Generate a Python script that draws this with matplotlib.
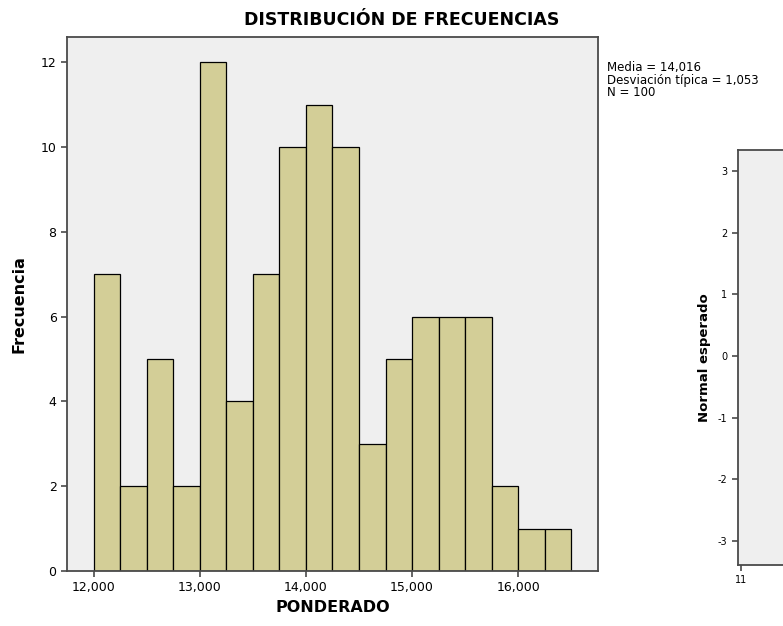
import matplotlib
matplotlib.use("Agg")
import matplotlib.pyplot as plt
from matplotlib.ticker import FuncFormatter

# datos del histograma (PONDERADO, ancho de clase 250)
bordes = [12000 + 250 * i for i in range(19)]
frecuencias = [7, 2, 5, 2, 12, 4, 7, 10, 11, 10, 3, 5, 6, 6, 6, 2, 1, 1]
ticks_x = [12000, 13000, 14000, 15000, 16000]
ticks_y = [0, 2, 4, 6, 8, 10, 12]
ticks_qq = [-3, -2, -1, 0, 1, 2, 3]

FONDO = "#EFEFEF"
BARRA = "#D3CE97"
BORDE = "#4A4A4A"

plt.rcParams["axes.unicode_minus"] = False

fig = plt.figure(figsize=(7.83, 6.26), dpi=100)

# panel principal: histograma
ax = fig.add_axes([0.0856, 0.0879, 0.678, 0.853])
ax.set_facecolor(FONDO)
ax.bar(bordes[:-1], frecuencias, width=250, align="edge",
       color=BARRA, edgecolor="black", linewidth=0.9)
ax.set_xlim(11750, 16750)
ax.set_ylim(0, 12.6)
ax.set_xticks(ticks_x)
ax.set_yticks(ticks_y)
ax.xaxis.set_major_formatter(FuncFormatter(lambda v, p: "{:,.0f}".format(v)))
ax.tick_params(direction="out", length=4, width=1.2, color=BORDE, labelsize=9)
for s in ax.spines.values():
    s.set_color(BORDE)
    s.set_linewidth(1.3)
ax.set_xlabel("PONDERADO", fontsize=11.5, fontweight="bold", labelpad=4)
ax.set_ylabel("Frecuencia", fontsize=11.5, fontweight="bold", labelpad=10)

# titulo centrado sobre toda la zona (grafico + estadisticos)
fig.text(0.513, 0.968, "DISTRIBUCIÓN DE FRECUENCIAS", fontsize=12.5,
         fontweight="bold", ha="center", va="center")

fig.text(0.775, 0.902, "Media = 14,016\nDesviación típica = 1,053\nN = 100",
         fontsize=8.5, va="top", ha="left", linespacing=0.92)

# panel derecho recortado: Q-Q normal
ax2 = fig.add_axes([0.9425, 0.0974, 0.5, 0.663])
ax2.set_facecolor(FONDO)
ax2.set_ylim(-3.39, 3.34)
ax2.set_xlim(10.95, 18)
ax2.set_yticks(ticks_qq)
ax2.set_xticks([11])
ax2.tick_params(direction="out", length=4, width=1.2, color=BORDE, labelsize=7)
for s in ax2.spines.values():
    s.set_color(BORDE)
    s.set_linewidth(1.3)
ax2.set_ylabel("Normal esperado", fontsize=9.5, fontweight="bold", labelpad=5)

fig.savefig("out.png", dpi=100)
